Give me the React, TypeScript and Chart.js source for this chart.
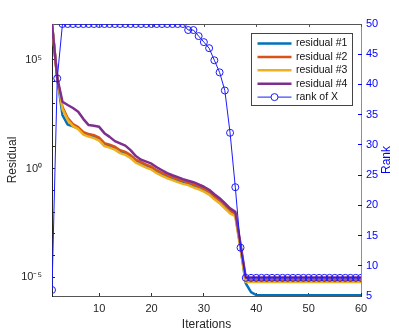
import React, { useEffect, useRef } from 'react';
import { Chart, registerables } from 'chart.js';

Chart.register(...registerables);

const iterations = Array.from({ length: 60 }, (_, i) => i + 1);

const residual1 = [
  4.5e6, 1.5e4, 293, 107, 88, 71, 46, 35, 30, 23,
  12.8, 10.9, 8.8, 6.0, 5.0, 3.6, 2.2, 1.7, 1.3, 1.06,
  0.72, 0.55, 0.43, 0.35, 0.28, 0.24, 0.2, 0.16, 0.133, 0.102,
  0.074, 0.046, 0.03, 0.018, 0.0104, 0.0076, 2.3e-4, 5.3e-6, 2.1e-6, 1.56e-6,
  1.5e-6, 1.5e-6, 1.5e-6, 1.5e-6, 1.5e-6, 1.5e-6, 1.5e-6, 1.5e-6, 1.5e-6, 1.5e-6,
  1.5e-6, 1.5e-6, 1.5e-6, 1.5e-6, 1.5e-6, 1.5e-6, 1.5e-6, 1.5e-6, 1.5e-6, 1.5e-6,
];

const residual2 = [
  4.5e6, 1.5e4, 680, 213, 112, 82, 48, 39, 35, 27,
  15, 12.8, 10.3, 7.1, 5.9, 4.2, 2.6, 2.0, 1.53, 1.24,
  0.85, 0.65, 0.5, 0.41, 0.33, 0.28, 0.24, 0.19, 0.156, 0.12,
  0.087, 0.054, 0.035, 0.021, 0.0122, 0.0089, 2.7e-4, 8.1e-6, 7.7e-6, 7.7e-6,
  7.7e-6, 7.7e-6, 7.7e-6, 7.7e-6, 7.7e-6, 7.7e-6, 7.7e-6, 7.7e-6, 7.7e-6, 7.7e-6,
  7.7e-6, 7.7e-6, 7.7e-6, 7.7e-6, 7.7e-6, 7.7e-6, 7.7e-6, 7.7e-6, 7.7e-6, 7.7e-6,
];

const residual3 = [
  4.5e6, 1.5e4, 550, 172, 91, 66, 37, 30, 25.5, 19.7,
  11, 9.3, 7.5, 5.2, 4.3, 3.1, 1.9, 1.46, 1.12, 0.9,
  0.62, 0.47, 0.365, 0.3, 0.24, 0.2, 0.175, 0.139, 0.114, 0.088,
  0.064, 0.039, 0.026, 0.015, 0.0089, 0.0065, 2.0e-4, 6.2e-6, 6.1e-6, 6.1e-6,
  6.1e-6, 6.1e-6, 6.1e-6, 6.1e-6, 6.1e-6, 6.1e-6, 6.1e-6, 6.1e-6, 6.1e-6, 6.1e-6,
  6.1e-6, 6.1e-6, 6.1e-6, 6.1e-6, 6.1e-6, 6.1e-6, 6.1e-6, 6.1e-6, 6.1e-6, 6.1e-6,
];

const residual4 = [
  4.5e6, 1.5e4, 1200, 850, 615, 415, 191, 101, 95, 84,
  43, 29, 18.5, 14.5, 11.5, 7.1, 3.8, 2.6, 2.1, 1.7,
  1.17, 0.85, 0.62, 0.5, 0.41, 0.33, 0.28, 0.24, 0.19, 0.148,
  0.108, 0.067, 0.044, 0.026, 0.015, 0.0104, 3.3e-4, 1.0e-5, 1.0e-5, 1.0e-5,
  1.0e-5, 1.0e-5, 1.0e-5, 1.0e-5, 1.0e-5, 1.0e-5, 1.0e-5, 1.0e-5, 1.0e-5, 1.0e-5,
  1.0e-5, 1.0e-5, 1.0e-5, 1.0e-5, 1.0e-5, 1.0e-5, 1.0e-5, 1.0e-5, 1.0e-5, 1.0e-5,
];

const rankOfX = [
  6, 41, 50, 50, 50, 50, 50, 50, 50, 50,
  50, 50, 50, 50, 50, 50, 50, 50, 50, 50,
  50, 50, 50, 50, 50, 50, 49, 49, 48, 47,
  46, 44, 42, 39, 32, 23, 13, 8, 8, 8,
  8, 8, 8, 8, 8, 8, 8, 8, 8, 8,
  8, 8, 8, 8, 8, 8, 8, 8, 8, 8,
];

const seriesLabels = ['residual #1', 'residual #2', 'residual #3', 'residual #4', 'rank of X'];
const seriesColors = ['#0072BD', '#D95319', '#EDB120', '#7E2F8E', '#1a1aff'];

const xTicks = [10, 20, 30, 40, 50, 60];
const rankTicks = [5, 10, 15, 20, 25, 30, 35, 40, 45, 50];
const residualDecades = [-5, -4, -3, -2, -1, 0, 1, 2, 3, 4, 5, 6];
const residualTickText: Record<string, string> = { '-5': '10⁻⁵', '0': '10⁰', '5': '10⁵' };

const xTitle = 'Iterations';
const yTitle = 'Residual';
const y2Title = 'Rank';

const FONT = "'Liberation Sans', Arial, Helvetica, sans-serif";

const framePlugin = {
  id: 'frame',
  beforeDatasetsDraw(chart: any) {
    const { ctx, chartArea: a, scales } = chart;
    ctx.save();
    ctx.strokeStyle = '#555';
    ctx.lineWidth = 1;
    ctx.beginPath();
    const ty = Math.round(a.top) + 0.5;
    ctx.moveTo(a.left, ty);
    ctx.lineTo(a.right, ty);
    for (const v of xTicks) {
      const x = Math.round(scales.x.getPixelForValue(v)) + 0.5;
      ctx.moveTo(x, a.top);
      ctx.lineTo(x, a.top + 3);
    }
    ctx.stroke();
    ctx.restore();
  },
  afterDraw(chart: any) {
    const { ctx, chartArea: a } = chart;
    ctx.save();
    ctx.translate(387, (a.top + a.bottom) / 2);
    ctx.rotate(-Math.PI / 2);
    ctx.fillStyle = '#0000ff';
    ctx.font = `12px ${FONT}`;
    ctx.textAlign = 'center';
    ctx.textBaseline = 'middle';
    ctx.fillText(y2Title, 0, 0);
    ctx.restore();
  },
};

const legendPlugin = {
  id: 'boxLegend',
  afterDatasetsDraw(chart: any) {
    const { ctx } = chart;
    const bx = 251.5, by = 33.5, bw = 101, bh = 72;
    ctx.save();
    ctx.fillStyle = '#ffffff';
    ctx.fillRect(bx, by, bw, bh);
    ctx.strokeStyle = '#444';
    ctx.lineWidth = 1;
    ctx.strokeRect(bx, by, bw, bh);
    chart.data.datasets.forEach((ds: any, i: number) => {
      const y = by + 10 + i * 13.4;
      ctx.strokeStyle = ds.borderColor;
      ctx.lineWidth = ds.borderWidth;
      ctx.beginPath();
      ctx.moveTo(257.5, y);
      ctx.lineTo(291.5, y);
      ctx.stroke();
      if (ds.pointRadius > 0) {
        ctx.lineWidth = 1;
        ctx.beginPath();
        ctx.arc(274.5, y, ds.pointRadius, 0, Math.PI * 2);
        ctx.fillStyle = '#ffffff';
        ctx.fill();
        ctx.stroke();
      }
      ctx.fillStyle = '#111';
      ctx.font = `10.5px ${FONT}`;
      ctx.textAlign = 'left';
      ctx.textBaseline = 'middle';
      ctx.fillText(ds.label, 296, y);
    });
    ctx.restore();
  },
};

export default function App() {
  const ref = useRef<HTMLCanvasElement>(null);
  useEffect(() => {
    document.body.style.margin = '0';
    Chart.defaults.font.family = FONT;
    const residuals = [residual1, residual2, residual3, residual4];
    const datasets: any[] = residuals.map((d, i) => ({
      label: seriesLabels[i],
      data: d,
      borderColor: seriesColors[i],
      backgroundColor: seriesColors[i],
      borderWidth: 2.5,
      pointRadius: 0,
      borderJoinStyle: 'round',
      borderCapStyle: 'round',
      yAxisID: 'y',
      order: 4 - i,
    }));
    datasets.push({
      label: seriesLabels[4],
      data: rankOfX,
      borderColor: seriesColors[4],
      backgroundColor: 'rgba(0,0,0,0)',
      borderWidth: 1,
      pointRadius: 3.5,
      pointBorderWidth: 1,
      pointBorderColor: seriesColors[4],
      pointBackgroundColor: 'rgba(0,0,0,0)',
      yAxisID: 'y2',
      order: 0,
    });
    const chart = new Chart(ref.current as HTMLCanvasElement, {
      type: 'line',
      data: { labels: iterations, datasets },
      options: {
        responsive: false,
        animation: false,
        devicePixelRatio: 1,
        layout: { padding: { top: 24, left: 0, right: 0, bottom: 0 } },
        plugins: { legend: { display: false }, tooltip: { enabled: false } },
        events: [],
        scales: {
          x: {
            type: 'linear',
            min: 1,
            max: 60,
            afterBuildTicks: (s: any) => { s.ticks = xTicks.map((v) => ({ value: v })); },
            afterFit: (s: any) => { s.height = 36; },
            ticks: { font: { size: 11 }, color: '#262626', padding: 9, autoSkip: false, maxRotation: 0 },
            grid: { drawOnChartArea: false, drawTicks: true, tickLength: -3, tickColor: '#333' },
            border: { display: true, color: '#555', width: 1 },
            title: { display: true, text: xTitle, font: { size: 12 }, color: '#262626', padding: 0 },
          },
          y: {
            type: 'logarithmic',
            position: 'left',
            min: 1.4e-6,
            max: 4.5e6,
            afterBuildTicks: (s: any) => { s.ticks = residualDecades.map((e) => ({ value: Math.pow(10, e) })); },
            afterFit: (s: any) => { s.width = 52; },
            ticks: {
              font: { size: 11 },
              color: '#262626',
              padding: 13,
              autoSkip: false,
              callback: (v: any) => residualTickText[String(Math.round(Math.log10(Number(v))))] ?? '',
            },
            grid: { drawOnChartArea: false, drawTicks: true, tickLength: -3, tickColor: '#222' },
            border: { display: true, color: '#222', width: 1 },
            title: { display: true, text: yTitle, font: { size: 12 }, color: '#262626', padding: { top: 5, bottom: 0 } },
          },
          y2: {
            type: 'linear',
            position: 'right',
            min: 5,
            max: 50,
            afterBuildTicks: (s: any) => { s.ticks = rankTicks.map((v) => ({ value: v })); },
            afterFit: (s: any) => { s.width = 38; },
            ticks: { font: { size: 11 }, color: '#0000ff', padding: 8, autoSkip: false },
            grid: { drawOnChartArea: false, drawTicks: true, tickLength: -3, tickColor: '#0000ff' },
            border: { display: true, color: 'rgba(0,0,255,0.5)', width: 1 },
            title: { display: false, text: y2Title },
          },
        },
      } as any,
      plugins: [framePlugin, legendPlugin],
    });
    return () => chart.destroy();
  }, []);
  return (
    <div style={{ width: 399, height: 332 }}>
      <canvas ref={ref} width={399} height={332} style={{ display: 'block' }} />
    </div>
  );
}
